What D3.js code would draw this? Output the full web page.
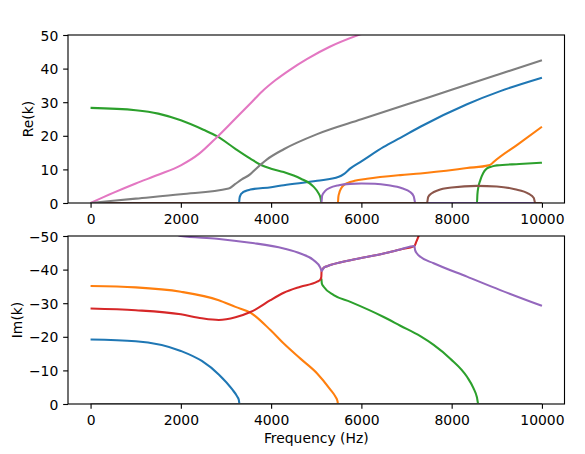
<!DOCTYPE html>
<html>
<head>
<meta charset="utf-8">
<script src="https://cdn.jsdelivr.net/npm/d3@7"></script>
<style>
  body { margin: 0; background: #fff; }
  svg text { fill: #000; }
</style>
</head>
<body>
<svg id="chart" width="585" height="454"></svg>
<script>
// Tick values and labels
var freqTicks = [0, 2000, 4000, 6000, 8000, 10000];
var reTicks = [0, 10, 20, 30, 40, 50];
var imTicks = [0, -10, -20, -30, -40, -50];
var imTickLabels = ["0", "\u221210", "\u221220", "\u221230", "\u221240", "\u221250"];

// matplotlib default colour cycle, one per mode
var modeColors = ["#1f77b4", "#ff7f0e", "#2ca02c", "#d62728", "#9467bd", "#8c564b", "#e377c2", "#7f7f7f"];

// Re(k) of each mode, [frequency Hz, value]
var blueRe = [[0, 0], [3290, 0], [3300, 1.4], [3320, 2.3], [3360, 3.0], [3420, 3.5], [3540, 4.0], [4000, 4.7],
  [4280, 5.3], [5020, 6.6], [5500, 7.8], [5610, 8.6], [5756, 10.3], [6000, 12.4], [6494, 16.7], [6863, 19.4],
  [7306, 22.7], [8340, 29.4], [9077, 33.3], [10000, 37.3]];
var orangeRe = [[0, 0], [5480, 0], [5490, 1.8], [5510, 3.0], [5550, 4.3], [5600, 5.2], [5700, 6.0], [5850, 6.6],
  [6125, 7.2], [6863, 8.3], [7306, 8.8], [8340, 10.4], [8818, 11.2], [8880, 11.6], [8929, 12.2], [9460, 17.4],
  [10000, 22.7]];
var greenRe = [[0, 28.3], [1000, 27.6], [1500, 26.6], [2000, 24.6], [2500, 21.8], [2800, 19.9], [3200, 16.2],
  [3540, 13.2], [3764, 11.4], [4000, 10.2], [4280, 9.2], [4650, 7.3], [4944, 4.8], [5055, 2.8], [5095, 1.5],
  [5114, 0], [8561, 0], [8570, 2.5], [8590, 4.6], [8635, 6.8], [8700, 8.9], [8782, 10.3], [8900, 10.9],
  [9003, 11.2], [9500, 11.6], [10000, 12.0]];
var redRe = [[0, 0], [10000, 0]];
var purpleRe = [[0, 0], [5114, 0], [5130, 2.2], [5200, 3.6], [5300, 4.5], [5500, 5.3], [5750, 5.7], [6000, 5.8],
  [6300, 5.75], [6600, 5.3], [6900, 4.4], [7080, 3.3], [7160, 2.0], [7195, 0], [10000, 0]];
var brownRe = [[0, 0], [7454, 0], [7480, 1.8], [7560, 2.9], [7700, 3.8], [8000, 4.6], [8561, 5.1], [9000, 4.9],
  [9400, 4.1], [9700, 2.8], [9820, 1.5], [9852, 0], [10000, 0]];
var pinkRe = [[0, 0], [500, 3.0], [1000, 5.8], [1500, 8.4], [2000, 11.2], [2400, 14.6], [2800, 19.6],
  [3200, 25.0], [3540, 29.6], [3800, 33.2], [4100, 36.6], [4400, 39.5], [4800, 42.9], [5300, 46.5],
  [5977, 50.2], [6500, 52.5]];
var grayRe = [[0, 0], [1000, 1.3], [2000, 2.6], [3060, 4.3], [3200, 5.6], [3350, 7.0], [3540, 8.6], [3650, 10.0],
  [3910, 13.0], [4280, 16.0], [5020, 20.5], [6000, 24.9], [7000, 29.3], [8000, 33.7], [9000, 38.1], [10000, 42.5]];

// Im(k) of each mode, [frequency Hz, value]
var blueIm = [[0, -19.2], [1000, -18.7], [2000, -15.8], [2465, -12.8], [2840, -8.8], [3135, -4.4], [3250, -2.2],
  [3285, -1.2], [3300, 0], [10000, 0]];
var orangeIm = [[0, -35.1], [1000, -34.7], [2000, -33.4], [2840, -30.9], [3210, -28.9], [3540, -27.2],
  [3985, -22.0], [4280, -18.0], [4650, -13.5], [5020, -9.1], [5313, -4.3], [5420, -2.3], [5470, -0.9],
  [5483, 0], [10000, 0]];
var greenIm = [[5114, -37.3], [5125, -35.8], [5165, -34.9], [5387, -32.4], [5756, -30.4], [6494, -25.9],
  [6863, -23.3], [7306, -20.2], [7601, -17.6], [7970, -13.5], [8340, -8.1], [8480, -4.8], [8560, -2.0],
  [8590, 0], [10000, 0]];
var redIm = [[0, -28.4], [1000, -27.9], [2000, -26.7], [2465, -25.5], [2840, -25.0], [3210, -25.8], [3540, -27.4],
  [3650, -28.1], [3985, -30.9], [4280, -33.1], [4650, -34.9], [5020, -36.4], [5090, -37.0], [5112, -37.8],
  [5118, -39.6], [5170, -40.6], [5240, -41.0], [5756, -42.8], [6494, -44.8], [6863, -46.0], [7173, -47.0],
  [7217, -48.3], [7268, -50], [7330, -52]];
var purpleIm = [[1900, -50.5], [2000, -50], [2800, -49.2], [3540, -48.0], [4280, -46.3], [4650, -44.8],
  [4944, -42.8], [5090, -40.6], [5118, -39.6], [5170, -40.6], [5240, -41.0], [5756, -42.8], [6494, -44.8],
  [6863, -46.0], [7173, -47.0], [7190, -45.8], [7232, -44.8], [7306, -43.8], [7601, -41.9], [8340, -37.9],
  [9077, -33.9], [10000, -29.2]];
var pinkIm = [[0, 0], [10000, 0]];
var grayIm = [[0, 0], [10000, 0]];

var reLines = [blueRe, orangeRe, greenRe, redRe, purpleRe, brownRe, pinkRe, grayRe];
var imLines = [blueIm, orangeIm, greenIm, redIm, purpleIm, null, pinkIm, grayIm];

// Layout (matplotlib style, 2 stacked axes, 100 dpi)
var left = 68, right = 564.5, panelH = 168;
var tickLen = 4.86, fontPx = 13.9, lineW = 2.08, spineW = 1.11;

var svg = d3.select("#chart");

var x = d3.scaleLinear()
    .domain([-500, 10500])
    .range([left, right]);

var panels = [
    { top: 35, lines: reLines, ticks: reTicks, labels: reTicks.map(String), domain: [0, 50], name: "Re(k)", labelX: 33.4 },
    { top: 236, lines: imLines, ticks: imTicks, labels: imTickLabels, domain: [0, -50], name: "Im(k)", labelX: 21.8 }
];

panels.forEach(function(p, i) {
    var bottom = p.top + panelH;
    var y = d3.scaleLinear()
        .domain(p.domain)
        .range([bottom, p.top]);

    svg.append("clipPath")
        .attr("id", "clip" + i)
        .append("rect")
        .attr("x", left)
        .attr("y", p.top)
        .attr("width", right - left)
        .attr("height", panelH);

    var line = d3.line()
        .x(d => x(d[0]))
        .y(d => y(d[1]))
        .curve(d3.curveMonotoneX);

    // Mode curves, drawn in colour-cycle order
    var plot = svg.append("g").attr("clip-path", "url(#clip" + i + ")");
    p.lines.forEach(function(pts, k) {
        if (!pts) return;
        plot.append("path")
            .attr("d", line(pts))
            .attr("fill", "none")
            .attr("stroke", modeColors[k])
            .attr("stroke-width", lineW)
            .attr("stroke-linejoin", "round");
    });

    // x axis
    var xAxis = svg.append("g")
        .attr("transform", "translate(0," + bottom + ")")
        .call(d3.axisBottom(x).tickValues(freqTicks).tickFormat(d3.format("d"))
            .tickSize(tickLen).tickPadding(6).tickSizeOuter(0));

    // y axis
    var yAxis = svg.append("g")
        .attr("transform", "translate(" + left + ",0)")
        .call(d3.axisLeft(y).tickValues(p.ticks).tickFormat((d, j) => p.labels[j])
            .tickSize(tickLen).tickPadding(tickLen).tickSizeOuter(0));

    [xAxis, yAxis].forEach(function(ax) {
        ax.attr("font-size", fontPx).attr("font-family", "DejaVu Sans, sans-serif");
        ax.select(".domain").remove();
        ax.selectAll(".tick line").attr("stroke", "#000").attr("stroke-width", spineW);
        ax.selectAll(".tick text").attr("fill", "#000");
    });
    yAxis.selectAll(".tick text").attr("dy", "0.36em");

    // Spines on top of the curves
    svg.append("rect")
        .attr("x", left)
        .attr("y", p.top)
        .attr("width", right - left)
        .attr("height", panelH)
        .attr("fill", "none")
        .attr("stroke", "#000")
        .attr("stroke-width", spineW);

    // y label
    svg.append("text")
        .attr("transform", "translate(" + p.labelX + "," + (p.top + panelH / 2) + ") rotate(-90)")
        .attr("text-anchor", "middle")
        .attr("font-family", "DejaVu Sans, sans-serif")
        .attr("font-size", fontPx)
        .text(p.name);
});

// x label under the lower panel
svg.append("text")
    .attr("x", (left + right) / 2)
    .attr("y", 443)
    .attr("text-anchor", "middle")
    .attr("font-family", "DejaVu Sans, sans-serif")
    .attr("font-size", fontPx)
    .text("Frequency (Hz)");
</script>
</body>
</html>
